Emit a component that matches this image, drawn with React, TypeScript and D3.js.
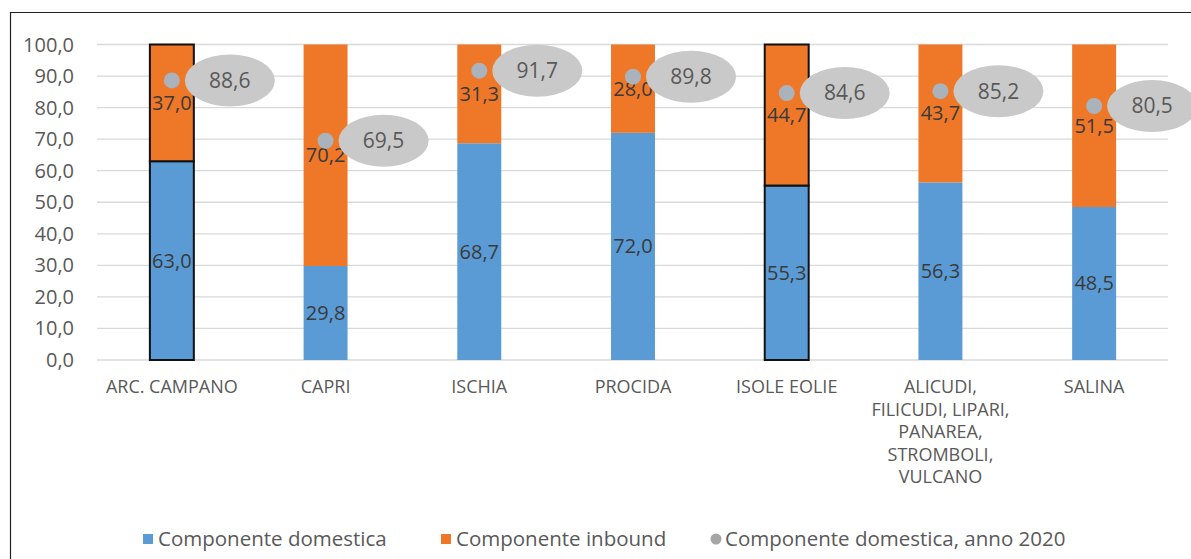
import React from "react";
import * as d3 from "d3";

const categories: string[] = [
  "ARC. CAMPANO",
  "CAPRI",
  "ISCHIA",
  "PROCIDA",
  "ISOLE EOLIE",
  "ALICUDI,\nFILICUDI, LIPARI,\nPANAREA,\nSTROMBOLI,\nVULCANO",
  "SALINA",
];
const domestica: number[] = [63.0, 29.8, 68.7, 72.0, 55.3, 56.3, 48.5];
const inbound: number[] = [37.0, 70.2, 31.3, 28.0, 44.7, 43.7, 51.5];
const domestica2020: number[] = [88.6, 69.5, 91.7, 89.8, 84.6, 85.2, 80.5];
const outlined: string[] = ["ARC. CAMPANO", "ISOLE EOLIE"];
const yTicks: number[] = [0, 10, 20, 30, 40, 50, 60, 70, 80, 90, 100];
const legendLabels: string[] = [
  "Componente domestica",
  "Componente inbound",
  "Componente domestica, anno 2020",
];

const W = 1191;
const H = 559;
const FONT = "'Open Sans', 'DejaVu Sans', sans-serif";
const BLUE = "#5B9BD5";
const ORANGE = "#EE7728";
const DOT = "#AAB3BC";
const BUBBLE = "#C9C9C9";
const fmt = (v: number) => v.toFixed(1).replace(".", ",");

export default function App() {
  const x = d3.scaleBand<string>().domain(categories).range([95, 1171]).paddingInner(0.714).paddingOuter(0.357);
  const y = d3.scaleLinear().domain([0, 100]).range([360, 44.5]);
  const bw = x.bandwidth();

  return (
    <svg width={W} height={H} style={{ position: "absolute", left: 0, top: 0, background: "#fff" }} fontFamily={FONT}>
      <rect x={0} y={0} width={W} height={H} fill="#fff" />
      {/* frame */}
      <line x1={10.5} y1={12} x2={10.5} y2={H} stroke="#222" strokeWidth={1.2} />
      <line x1={10} y1={12.5} x2={W} y2={12.5} stroke="#222" strokeWidth={1.2} />
      {/* gridlines */}
      {yTicks.map((t) => (
        <line key={"g" + t} x1={97} x2={1168} y1={y(t)} y2={y(t)} stroke="#D9D9D9" strokeWidth={1.3} />
      ))}
      {/* y tick labels */}
      {yTicks.map((t) => (
        <text key={"t" + t} x={74} y={y(t)} dy="0.35em" textAnchor="end" fontSize={20} fill="#595959">
          {fmt(t)}
        </text>
      ))}
      {/* bars */}
      {categories.map((c, i) => {
        const x0 = x(c)!;
        const out = outlined.includes(c);
        return (
          <g key={"b" + i}>
            <rect x={x0} width={bw} y={y(domestica[i])} height={y(0) - y(domestica[i])} fill={BLUE}
              stroke={out ? "#111" : "none"} strokeWidth={out ? 2 : 0} />
            <rect x={x0} width={bw} y={y(domestica[i] + inbound[i])} height={y(domestica[i]) - y(domestica[i] + inbound[i])} fill={ORANGE}
              stroke={out ? "#111" : "none"} strokeWidth={out ? 2 : 0} />
          </g>
        );
      })}
      {/* bar labels */}
      {categories.map((c, i) => {
        const cx = x(c)! + bw / 2;
        return (
          <g key={"l" + i} fontSize={20} fill="#3A3A3A" textAnchor="middle">
            <text x={cx} y={y(domestica[i] / 2)} dy="0.35em">{fmt(domestica[i])}</text>
            <text x={cx} y={y(domestica[i] + inbound[i] / 2)} dy="0.35em">{fmt(inbound[i])}</text>
          </g>
        );
      })}
      {/* 2020 dots and bubbles */}
      {categories.map((c, i) => {
        const cx = x(c)! + bw / 2;
        const cy = y(domestica2020[i]);
        return (
          <g key={"d" + i}>
            <circle cx={cx} cy={cy} r={8} fill={DOT} />
            <ellipse cx={cx + 58} cy={cy} rx={45} ry={26} fill={BUBBLE} />
            <text x={cx + 58} y={cy} dy="0.35em" textAnchor="middle" fontSize={21} fill="#595959">
              {fmt(domestica2020[i])}
            </text>
          </g>
        );
      })}
      {/* x labels */}
      {categories.map((c, i) => {
        const cx = x(c)! + bw / 2;
        return (
          <text key={"x" + i} x={cx} y={387} textAnchor="middle" fontSize={18} fill="#595959">
            {c.split("\n").map((ln, j) => (
              <tspan key={j} x={cx} y={387 + j * 22.5} dy="0.35em">{ln}</tspan>
            ))}
          </text>
        );
      })}
      {/* legend */}
      <g fontSize={20.5} fill="#595959">
        <rect x={143} y={534} width={10} height={10} fill={BLUE} />
        <text x={158} y={539} dy="0.35em">{legendLabels[0]}</text>
        <rect x={441} y={534} width={10} height={10} fill={ORANGE} />
        <text x={456} y={539} dy="0.35em">{legendLabels[1]}</text>
        <circle cx={716} cy={539} r={5.5} fill="#A5A5A5" />
        <text x={725} y={539} dy="0.35em">{legendLabels[2]}</text>
      </g>
    </svg>
  );
}
